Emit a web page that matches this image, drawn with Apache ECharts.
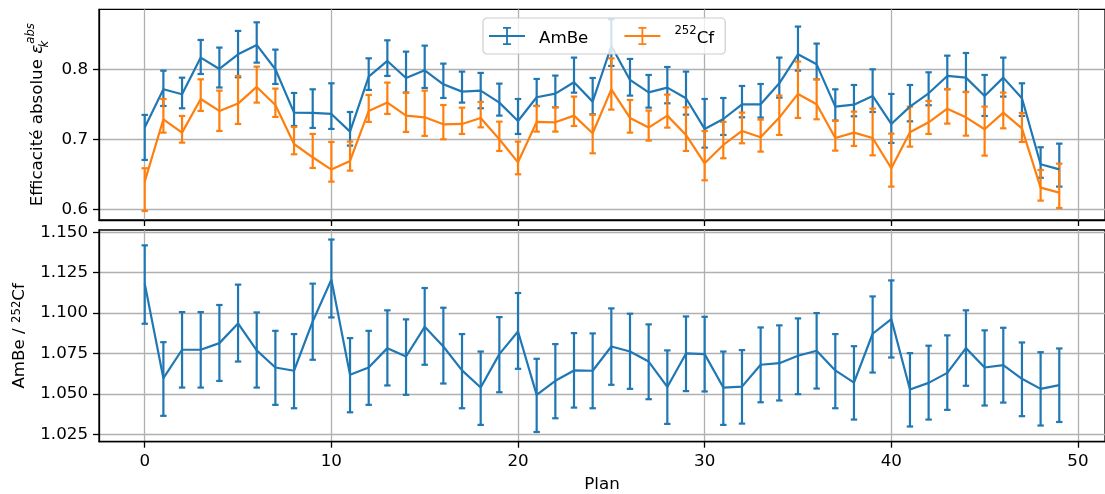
<!DOCTYPE html>
<html><head><meta charset="utf-8">
<script src="https://cdn.jsdelivr.net/npm/echarts@6/dist/echarts.min.js"></script>
<style>html,body{margin:0;padding:0;background:#fff}#c{width:1105px;height:494px}</style>
</head><body><div id="c"></div><script>
const plans = [0,1,2,3,4,5,6,7,8,9,10,11,12,13,14,15,16,17,18,19,20,21,22,23,24,25,26,27,28,29,30,31,32,33,34,35,36,37,38,39,40,41,42,43,44,45,46,47,48,49];
const xTicks = [0,10,20,30,40,50];
const effTicks = [0.6,0.7,0.8];
const ratioTicks = [1.025,1.05,1.075,1.1,1.125,1.15];

const ambe = [0.7167,0.7714,0.7643,0.8167,0.8005,0.8214,0.8348,0.8000,0.7381,0.7376,0.7362,0.7110,0.7895,0.8119,0.7876,0.7986,0.7786,0.7681,0.7695,0.7524,0.7262,0.7600,0.7652,0.7814,0.7538,0.8333,0.7848,0.7671,0.7738,0.7586,0.7148,0.7290,0.7500,0.7500,0.7800,0.8214,0.8071,0.7467,0.7495,0.7619,0.7219,0.7467,0.7657,0.7905,0.7881,0.7619,0.7881,0.7586,0.6643,0.6571];
const ambeLow = [0.6705,0.7476,0.7443,0.7933,0.7740,0.7886,0.8095,0.7790,0.7190,0.7162,0.7148,0.6910,0.7705,0.7905,0.7667,0.7733,0.7590,0.7524,0.7443,0.7338,0.7076,0.7476,0.7457,0.7666,0.7357,0.8048,0.7624,0.7452,0.7514,0.7352,0.6881,0.7062,0.7314,0.7310,0.7595,0.7981,0.7857,0.7267,0.7329,0.7390,0.6948,0.7257,0.7486,0.7714,0.7676,0.7333,0.7610,0.7333,0.6450,0.6324];
const ambeHigh = [0.7348,0.7980,0.7880,0.8419,0.8310,0.8548,0.8671,0.8281,0.7662,0.7714,0.7800,0.7390,0.8157,0.8414,0.8252,0.8338,0.8081,0.7967,0.7948,0.7795,0.7576,0.7862,0.7910,0.8167,0.7876,0.8714,0.8148,0.7919,0.8033,0.7967,0.7576,0.7590,0.7762,0.7790,0.8167,0.8610,0.8367,0.7714,0.7776,0.8000,0.7648,0.7776,0.7957,0.8195,0.8233,0.7919,0.8167,0.7800,0.6886,0.6938];

const cf = [0.6395,0.7286,0.7095,0.7576,0.7405,0.7510,0.7748,0.7490,0.6933,0.6743,0.6567,0.6690,0.7405,0.7524,0.7338,0.7314,0.7214,0.7219,0.7305,0.7000,0.6671,0.7248,0.7243,0.7338,0.7086,0.7714,0.7305,0.7167,0.7338,0.7062,0.6657,0.6919,0.7119,0.7029,0.7310,0.7648,0.7500,0.7019,0.7095,0.7019,0.6586,0.7100,0.7243,0.7438,0.7314,0.7143,0.7381,0.7157,0.6310,0.6238];
const cfLow = [0.5976,0.7095,0.6952,0.7405,0.7119,0.7219,0.7524,0.7319,0.6786,0.6590,0.6395,0.6552,0.7248,0.7362,0.7105,0.7048,0.7000,0.7076,0.7171,0.6833,0.6500,0.7110,0.7110,0.7190,0.6800,0.7424,0.7095,0.6981,0.7167,0.6833,0.6414,0.6729,0.6943,0.6824,0.7062,0.7305,0.7286,0.6838,0.6905,0.6771,0.6324,0.6895,0.7076,0.7224,0.7052,0.6767,0.7157,0.6962,0.6124,0.6019];
const cfHigh = [0.6586,0.7576,0.7333,0.7857,0.7695,0.7905,0.8038,0.7724,0.7176,0.7076,0.6962,0.6967,0.7633,0.7810,0.7667,0.7695,0.7490,0.7452,0.7533,0.7252,0.6967,0.7476,0.7457,0.7610,0.7352,0.8157,0.7562,0.7410,0.7638,0.7457,0.7119,0.7248,0.7381,0.7281,0.7624,0.8110,0.7857,0.7267,0.7395,0.7438,0.7081,0.7467,0.7548,0.7719,0.7676,0.7467,0.7667,0.7376,0.6562,0.6652];

const ratio = [1.1182,1.0597,1.0773,1.0773,1.0814,1.0936,1.0769,1.0663,1.0643,1.0948,1.1207,1.0618,1.0663,1.0783,1.0731,1.0915,1.0793,1.0645,1.0539,1.0746,1.0886,1.0494,1.0581,1.0645,1.0643,1.0793,1.0762,1.0700,1.0543,1.0750,1.0746,1.0539,1.0545,1.0680,1.0690,1.0736,1.0767,1.0645,1.0570,1.0872,1.0963,1.0527,1.0568,1.0630,1.0783,1.0663,1.0678,1.0593,1.0531,1.0554];
const ratioLow = [1.0934,1.0364,1.0539,1.0539,1.0580,1.0700,1.0539,1.0432,1.0411,1.0711,1.0973,1.0386,1.0432,1.0552,1.0494,1.0680,1.0564,1.0411,1.0308,1.0510,1.0655,1.0264,1.0349,1.0415,1.0411,1.0556,1.0531,1.0467,1.0314,1.0517,1.0515,1.0308,1.0316,1.0448,1.0459,1.0498,1.0533,1.0411,1.0341,1.0632,1.0725,1.0298,1.0341,1.0401,1.0550,1.0428,1.0446,1.0362,1.0304,1.0326];
const ratioHigh = [1.1419,1.0820,1.1006,1.1006,1.1050,1.1176,1.1004,1.0890,1.0870,1.1182,1.1455,1.0845,1.0890,1.1017,1.0961,1.1155,1.1033,1.0870,1.0762,1.0975,1.1124,1.0717,1.0808,1.0876,1.0874,1.1029,1.0996,1.0930,1.0769,1.0979,1.0977,1.0762,1.0771,1.0911,1.0924,1.0967,1.1000,1.0870,1.0795,1.1103,1.1202,1.0752,1.0798,1.0862,1.1017,1.0893,1.0909,1.0818,1.0758,1.0781];

const BLUE = '#1f77b4', ORANGE = '#ff7f0e';
const FONT = 'DejaVu Sans';
const FS = 16.7;
const LW = 2.2;

function errSeries(name, color, lo, hi, gi) {
  return {
    type: 'custom', name: name, xAxisIndex: gi, yAxisIndex: gi,
    data: plans.map((p, i) => [p, lo[i], hi[i]]),
    encode: { x: 0, y: [1, 2] },
    clip: false, z: 2,
    renderItem: function (params, api) {
      const x = api.value(0);
      const a = api.coord([x, api.value(1)]);
      const b = api.coord([x, api.value(2)]);
      const hw = 3.2;
      const st = { stroke: color, lineWidth: LW, fill: null };
      return { type: 'group', children: [
        { type: 'line', shape: { x1: a[0], y1: a[1], x2: b[0], y2: b[1] }, style: st },
        { type: 'line', shape: { x1: a[0] - hw, y1: a[1], x2: a[0] + hw, y2: a[1] }, style: st },
        { type: 'line', shape: { x1: b[0] - hw, y1: b[1], x2: b[0] + hw, y2: b[1] }, style: st }
      ]};
    }
  };
}
function lineSeries(name, color, vals, gi) {
  return {
    type: 'line', name: name, xAxisIndex: gi, yAxisIndex: gi,
    data: plans.map((p, i) => [p, vals[i]]),
    showSymbol: false, symbol: 'none', z: 2,
    lineStyle: { color: color, width: LW }, itemStyle: { color: color },
    clip: false
  };
}

const gridLine = { show: true, lineStyle: { color: '#b0b0b0', width: 1.3 } };
const axisLineStyle = { show: true, onZero: false, lineStyle: { color: '#000', width: 1.3 } };
const tickStyle = { show: true, inside: false, length: 6, lineStyle: { color: '#000', width: 1.3 } };
const labelStyle = { color: '#000', fontFamily: FONT, fontSize: FS };

const ICON = 'path://M0 8.1H36V9.9H0Z M17.1 0H18.9V18H17.1Z M14 0H22V1.8H14Z M14 16.2H22V18H14Z';

const option = {
  animation: false,
  backgroundColor: '#fff',
  textStyle: { fontFamily: FONT },
  grid: [
    { left: 99, top: 9.3, width: 1009, height: 210.7, show: true, borderColor: '#000', borderWidth: 1.3, backgroundColor: 'transparent' },
    { left: 99, top: 230, width: 1009, height: 211.7, show: true, borderColor: '#000', borderWidth: 1.3, backgroundColor: 'transparent' }
  ],
  legend: {
    left: 483, top: 18, z: 20,
    orient: 'horizontal',
    padding: [7, 11, 7, 6],
    itemGap: 36,
    itemWidth: 36, itemHeight: 18,
    backgroundColor: 'rgba(255,255,255,0.8)',
    borderColor: '#cccccc', borderWidth: 1.2, borderRadius: 4,
    data: [
      { name: 'AmBe', icon: ICON, itemStyle: { color: BLUE, borderWidth: 0 } },
      { name: 'Cf252', icon: ICON, itemStyle: { color: ORANGE, borderWidth: 0 } }
    ],
    formatter: function (n) { return n === 'Cf252' ? '{s|252}{b|Cf}' : '{b|AmBe}'; },
    textStyle: {
      color: '#000', fontFamily: FONT, fontSize: FS, padding: [0, 0, 0, 9],
      rich: {
        b: { fontFamily: FONT, fontSize: FS, color: '#000', lineHeight: 22, verticalAlign: 'bottom' },
        s: { fontFamily: FONT, fontSize: 11.7, color: '#000', lineHeight: 14, verticalAlign: 'top' }
      }
    }
  },
  xAxis: [
    { type: 'value', gridIndex: 0, min: -2.45, max: 51.45,
      axisLine: axisLineStyle, axisTick: Object.assign({ customValues: xTicks }, tickStyle),
      axisLabel: { show: false, customValues: xTicks }, splitLine: gridLine },
    { type: 'value', gridIndex: 1, min: -2.45, max: 51.45,
      axisLine: axisLineStyle, axisTick: Object.assign({ customValues: xTicks }, tickStyle),
      axisLabel: Object.assign({ customValues: xTicks, margin: 11 }, labelStyle), splitLine: gridLine,
      name: 'Plan', nameLocation: 'middle', nameGap: 34,
      nameTextStyle: { color: '#000', fontFamily: FONT, fontSize: FS } }
  ],
  yAxis: [
    { type: 'value', gridIndex: 0, min: 0.5847, max: 0.8857,
      axisLine: axisLineStyle, axisTick: Object.assign({ customValues: effTicks }, tickStyle),
      axisLabel: Object.assign({ customValues: effTicks, margin: 11, formatter: v => v.toFixed(1) }, labelStyle),
      splitLine: gridLine,
      name: 'Efficacité absolue {e|ε}{k|k}{a|abs}', nameLocation: 'middle', nameRotate: 90, nameGap: 45,
      nameTextStyle: { color: '#000', fontFamily: FONT, fontSize: FS,
        rich: {
          e: { fontFamily: FONT, fontSize: FS, fontStyle: 'italic', color: '#000', lineHeight: 26 },
          k: { fontFamily: FONT, fontSize: 11.7, fontStyle: 'italic', color: '#000', verticalAlign: 'bottom', lineHeight: 13, width: 1 },
          a: { fontFamily: FONT, fontSize: 11.7, fontStyle: 'italic', color: '#000', verticalAlign: 'top', lineHeight: 13 }
        } } },
    { type: 'value', gridIndex: 1, min: 1.0204, max: 1.1514,
      axisLine: axisLineStyle, axisTick: Object.assign({ customValues: ratioTicks }, tickStyle),
      axisLabel: Object.assign({ customValues: ratioTicks, margin: 11, formatter: v => v.toFixed(3) }, labelStyle),
      splitLine: gridLine,
      name: 'AmBe / {s|252}Cf', nameLocation: 'middle', nameRotate: 90, nameGap: 71,
      nameTextStyle: { color: '#000', fontFamily: FONT, fontSize: FS,
        rich: {
          s: { fontFamily: FONT, fontSize: 11.7, color: '#000', verticalAlign: 'top', lineHeight: 13 }
        } } }
  ],
  series: [
    lineSeries('AmBe', BLUE, ambe, 0),
    errSeries('AmBe', BLUE, ambeLow, ambeHigh, 0),
    lineSeries('Cf252', ORANGE, cf, 0),
    errSeries('Cf252', ORANGE, cfLow, cfHigh, 0),
    lineSeries('ratio', BLUE, ratio, 1),
    errSeries('ratio', BLUE, ratioLow, ratioHigh, 1)
  ]
};
const chart = echarts.init(document.getElementById('c'), null, { renderer: 'canvas' });
chart.setOption(option);
</script></body></html>
